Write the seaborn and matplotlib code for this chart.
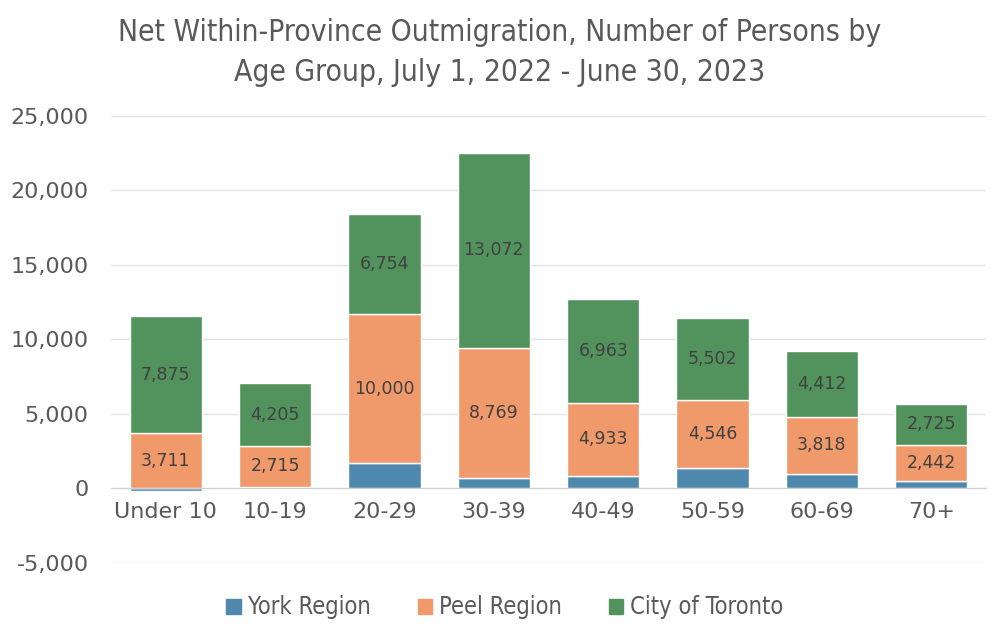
import numpy as np
import pandas as pd
import matplotlib
matplotlib.use("Agg")
import matplotlib.pyplot as plt
import seaborn as sns
from matplotlib.ticker import FuncFormatter
from matplotlib.patches import Patch

age_groups = ["Under 10", "10-19", "20-29", "30-39", "40-49", "50-59", "60-69", "70+"]
york = [-150, 130, 1680, 680, 830, 1390, 990, 490]
peel = [3711, 2715, 10000, 8769, 4933, 4546, 3818, 2442]
toronto = [7875, 4205, 6754, 13072, 6963, 5502, 4412, 2725]

c_york = "#4f88ad"
c_peel = "#f0996b"
c_tor = "#52935d"
txt = "#595959"

sns.set_style("white")
plt.rcParams["font.family"] = ["DejaVu Sans"]

df = pd.DataFrame({"age": age_groups, "york": york, "peel": peel, "toronto": toronto})
peel_bottom = np.clip(df["york"].values, 0, None)
tor_bottom = peel_bottom + df["peel"].values

fig = plt.figure(figsize=(10, 6.38), dpi=100)
ax = fig.add_axes([0.111, 0.1176, 0.875, 0.7006])

w = 0.66
sns.barplot(data=df, x="age", y="york", color=c_york, width=w, ax=ax, saturation=1)
sns.barplot(data=df, x="age", y="peel", color=c_peel, width=w, ax=ax, saturation=1,
            bottom=peel_bottom)
sns.barplot(data=df, x="age", y="toronto", color=c_tor, width=w, ax=ax, saturation=1,
            bottom=tor_bottom)

# data labels for Peel and Toronto
for i in range(len(age_groups)):
    ax.text(i, peel_bottom[i] + peel[i] / 2, f"{peel[i]:,}", ha="center", va="center",
            fontsize=12.5, color="#404040")
    ax.text(i, tor_bottom[i] + toronto[i] / 2, f"{toronto[i]:,}", ha="center", va="center",
            fontsize=12.5, color="#404040")

ax.set_ylim(-5000, 25000)
ax.set_yticks(range(-5000, 25001, 5000))
ax.yaxis.set_major_formatter(FuncFormatter(lambda v, p: f"{int(v):,}"))
ax.grid(axis="y", color="#e3e3e3", linewidth=1)
ax.set_axisbelow(True)
for s in ["top", "right", "left"]:
    ax.spines[s].set_visible(False)
ax.spines["bottom"].set_position(("data", 0))
ax.spines["bottom"].set_color("#d0d0d0")
ax.tick_params(axis="both", length=0, labelsize=16, colors=txt, pad=10)
ax.tick_params(axis="y", pad=16)
ax.set_xlabel("")
ax.set_ylabel("")
ax.set_xlim(-0.5, len(age_groups) - 0.5)

fig.suptitle("Net Within-Province Outmigration, Number of Persons by\nAge Group, July 1, 2022 - June 30, 2023",
             y=0.972, fontsize=21.5, color=txt, linespacing=1.5, fontstretch="condensed")

handles = [Patch(color=c_york, label="York Region"),
           Patch(color=c_peel, label="Peel Region"),
           Patch(color=c_tor, label="City of Toronto")]
leg = fig.legend(handles=handles, loc="center", bbox_to_anchor=(0.505, 0.048), ncol=3,
                 frameon=False, handlelength=0.6, handleheight=0.6,
                 handletextpad=0.3, columnspacing=2.0,
                 prop={"size": 17, "stretch": "condensed"})
for t in leg.get_texts():
    t.set_color(txt)

fig.savefig("out.png", dpi=100)
